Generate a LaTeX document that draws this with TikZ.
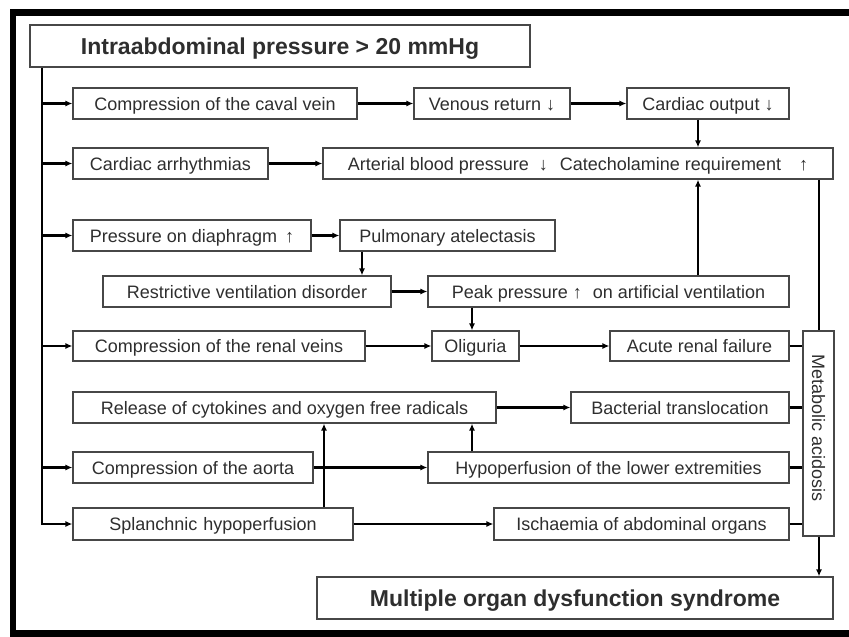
\documentclass[tikz,border=0pt]{standalone}
\usepackage{fontspec}
\setmainfont{Liberation Sans}
\usetikzlibrary{arrows.meta}
\begin{document}
\begin{tikzpicture}[x=1pt,y=-1pt,
  box/.style={draw=black!72, line width=1.2pt, rectangle, inner sep=0pt, text=black!82, font=\fontsize{18}{20}\selectfont, text height=13pt, text depth=0pt},
  bigbox/.style={box, font=\fontsize{23}{25}\selectfont\bfseries, text height=16.5pt},
  txt/.style={inner sep=0pt, text=black!82, font=\fontsize{18}{20}\selectfont},
  arr/.style={line width=2.2pt, -{Latex[length=7pt,width=6pt]}},
  conn/.style={line width=2.2pt},
  frame/.style={line width=6.5pt}]
\useasboundingbox (0,0) rectangle (849,637);
\draw[frame] (849,12.5) -- (13,12.5) -- (13,633.5) -- (849,633.5);

% boxes
\node[bigbox, minimum width=500pt, minimum height=42pt] (title) at (280,46) {Intraabdominal pressure > 20 mmHg};
\node[box, minimum width=284pt, minimum height=31pt] (caval) at (215,103.5) {Compression of the caval vein};
\node[box, minimum width=156pt, minimum height=31pt] (venous) at (492,103.5) {Venous return ↓};
\node[box, minimum width=162pt, minimum height=31pt] (cout) at (708,103.5) {Cardiac output ↓};
\node[box, minimum width=195pt, minimum height=31pt] (arrhyth) at (170.5,163.5) {Cardiac arrhythmias};
\node[box, minimum width=510pt, minimum height=31pt] (arterial) at (578,163.5) {Arterial blood pressure\hspace{10pt}↓\hspace{12pt}Catecholamine requirement\hspace{18pt}↑};
\node[box, minimum width=238pt, minimum height=31pt] (diaph) at (192,235.5) {Pressure on diaphragm\hspace{8pt}↑};
\node[box, minimum width=215pt, minimum height=31pt] (pulm) at (447.5,235.5) {Pulmonary atelectasis};
\node[box, minimum width=288pt, minimum height=31pt] (restr) at (247,291.5) {Restrictive ventilation disorder};
\node[box, minimum width=361pt, minimum height=31pt] (peak) at (608.5,291.5) {Peak pressure ↑\hspace{6pt} on artificial ventilation};
\node[box, minimum width=292pt, minimum height=30pt] (renal) at (219,346) {Compression of the renal veins};
\node[box, minimum width=87pt, minimum height=30pt] (olig) at (475.5,346) {Oliguria};
\node[box, minimum width=179pt, minimum height=30pt] (arf) at (699.5,346) {Acute renal failure};
\node[box, minimum width=423pt, minimum height=31pt] (cyto) at (284.5,407.5) {Release of cytokines and oxygen free radicals};
\node[box, minimum width=218pt, minimum height=31pt] (bact) at (680,407.5) {Bacterial translocation};
\node[box, minimum width=240pt, minimum height=31pt] (aorta) at (193,467.5) {Compression of the aorta};
\node[box, minimum width=361pt, minimum height=31pt] (hypo) at (608.5,467.5) {Hypoperfusion of the lower extremities};
\node[box, minimum width=280pt, minimum height=32pt] (splan) at (213,524) {Splanchnic\hspace{6pt}hypoperfusion};
\node[box, minimum width=295pt, minimum height=32pt] (isch) at (641.5,524) {Ischaemia of abdominal organs};
\node[box, minimum width=31pt, minimum height=205pt] (metab) at (818.5,433.5) {};
\node[txt, rotate=-90, text height=13pt, text depth=0pt] (metabtxt) at (818.5,428) {Metabolic acidosis};
\node[bigbox, minimum width=516pt, minimum height=42pt] (mods) at (575,598) {Multiple organ dysfunction syndrome};

% helper x positions
\coordinate (tr) at (42,0);
\coordinate (xa) at (698,0);
\coordinate (xb) at (362,0);
\coordinate (xc) at (472,0);
\coordinate (xd) at (324,0);
\coordinate (xm) at (819,0);

% trunk and branches
\draw[arr] (title.south -| tr) |- (splan.west);
\draw[arr] (tr |- caval.west) -- (caval.west);
\draw[arr] (tr |- arrhyth.west) -- (arrhyth.west);
\draw[arr] (tr |- diaph.west) -- (diaph.west);
\draw[arr] (tr |- renal.west) -- (renal.west);
\draw[arr] (tr |- aorta.west) -- (aorta.west);

% horizontal chains
\draw[arr] (caval) -- (venous);
\draw[arr] (venous) -- (cout);
\draw[arr] (arrhyth) -- (arterial);
\draw[arr] (diaph) -- (pulm);
\draw[arr] (restr) -- (peak);
\draw[arr] (renal) -- (olig);
\draw[arr] (olig) -- (arf);
\draw[arr] (cyto) -- (bact);
\draw[arr] (aorta) -- (hypo);
\draw[arr] (splan) -- (isch);

% vertical arrows
\draw[arr] (cout.south -| xa) -- (arterial.north -| xa);
\draw[arr] (peak.north -| xa) -- (arterial.south -| xa);
\draw[arr] (pulm.south -| xb) -- (restr.north -| xb);
\draw[arr] (peak.south -| xc) -- (olig.north -| xc);
\draw[arr] (hypo.north -| xc) -- (cyto.south -| xc);
\draw[arr] (splan.north -| xd) -- (cyto.south -| xd);

% to metabolic acidosis
\draw[conn] (arterial.south -| xm) -- (metab.north -| xm);
\draw[conn] (arf.east) -- (arf.east -| metab.west);
\draw[conn] (bact.east) -- (bact.east -| metab.west);
\draw[conn] (hypo.east) -- (hypo.east -| metab.west);
\draw[conn] (isch.east) -- (isch.east -| metab.west);
\draw[arr] (metab.south -| xm) -- (mods.north -| xm);
\end{tikzpicture}
\end{document}
